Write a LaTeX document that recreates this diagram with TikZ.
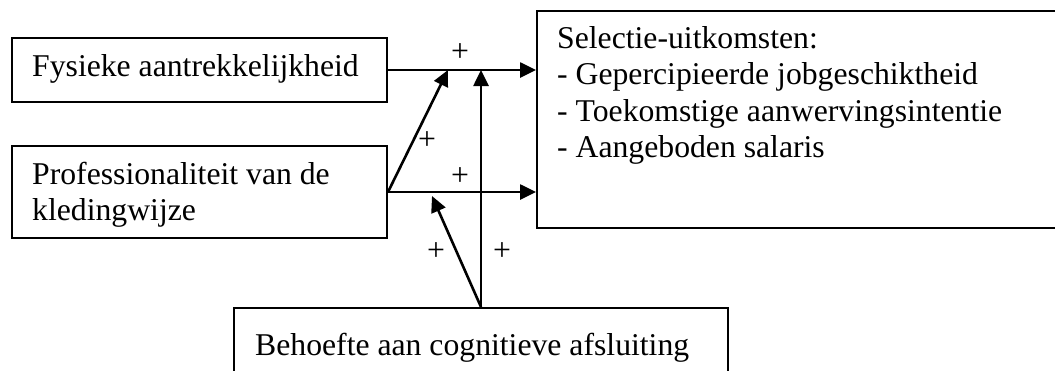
\documentclass[tikz,border=0pt]{standalone}
\usepackage{fontspec}
\setmainfont{Liberation Serif}
\usetikzlibrary{arrows.meta}
\begin{document}
\begin{tikzpicture}[x=1pt,y=-1pt,
  box/.style={draw, line width=2pt, inner sep=0pt, anchor=north west},
  txt/.style={anchor=base west, inner sep=0pt, font=\fontsize{31.7}{36.5}\selectfont, align=left},
  plus/.style={inner sep=0pt, font=\fontsize{31.7}{36.5}\selectfont},
  conn/.style={line width=2.6pt, -{Triangle[length=16pt,width=15pt]}},
]
\useasboundingbox (0,0) rectangle (1055,370);
\clip (0,0) rectangle (1055,370);
% boxes
\node[box, minimum width=375pt, minimum height=64pt] (fys) at (11,37) {};
\node[box, minimum width=375pt, minimum height=92pt] (pro) at (11,145) {};
\node[box, minimum width=530pt, minimum height=217pt] (res) at (536,10) {};
\node[box, minimum width=494pt, minimum height=90pt] (beh) at (233,307) {};
% texts (base = baseline of the last line)
\node[txt] (tfys) at (32,76) {Fysieke aantrekkelijkheid};
\node[txt] (tpro) at (32,220.5) {Professionaliteit van de\\kledingwijze};
\node[txt] (tres) at (557,157.5) {Selectie-uitkomsten:\\- Gepercipieerde jobgeschiktheid\\- Toekomstige aanwervingsintentie\\- Aangeboden salaris};
\node[txt] (tbeh) at (255,355) {Behoefte aan cognitieve afsluiting};
% junction points
\coordinate (d1) at ([xshift=60pt]fys.east);
\coordinate (d2) at ([xshift=44pt,yshift=-4pt]pro.east);
% connectors
\draw[conn] (fys.east) -- (fys.east -| res.west);
\draw[conn] (pro.east) -- (pro.east -| res.west);
\draw[conn] (pro.east) -- (d1);
\draw[conn] (beh.north) -- (beh.north |- fys.east);
\draw[conn] (beh.north) -- (d2);
% labels
\node[plus] (p1) at (460,53) {+};
\node[plus] (p2) at (427,141) {+};
\node[plus] (p3) at (460,177) {+};
\node[plus] (p4) at (436,252) {+};
\node[plus] (p5) at (502,252) {+};
\end{tikzpicture}
\end{document}
